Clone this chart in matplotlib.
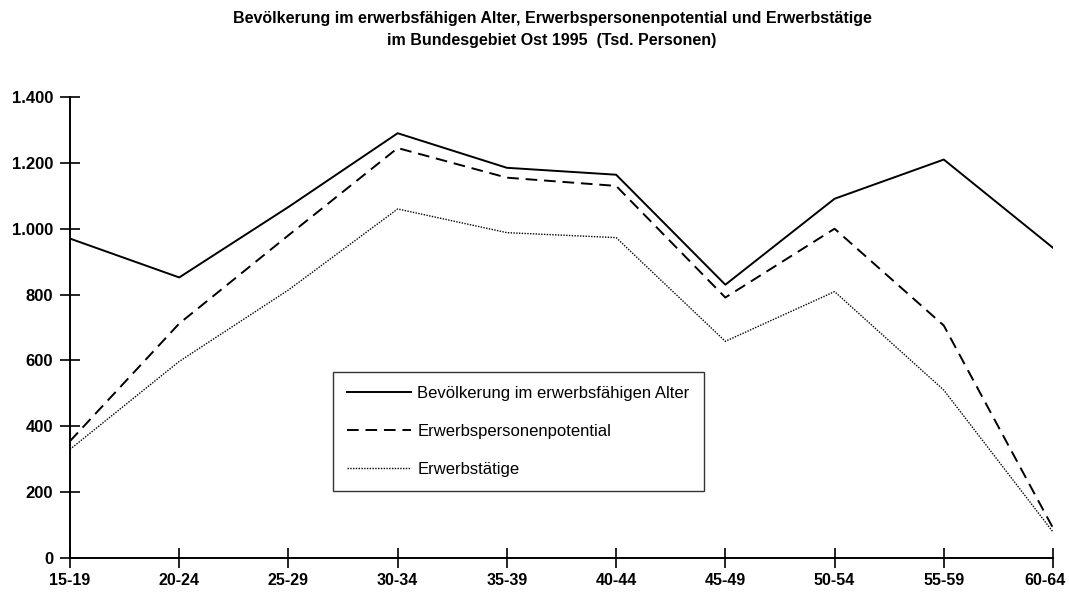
import matplotlib
matplotlib.use('Agg')
import matplotlib.pyplot as plt
import matplotlib.transforms as mtransforms
from matplotlib.ticker import FuncFormatter

plt.rcParams['font.family'] = ['Liberation Sans', 'DejaVu Sans']

# Altersgruppen
age_groups = ['15-19', '20-24', '25-29', '30-34', '35-39', '40-44', '45-49', '50-54', '55-59', '60-64']

# Tsd. Personen
bevoelkerung = [970, 852, 1066, 1290, 1185, 1164, 830, 1091, 1210, 942]
potential = [355, 712, 980, 1245, 1155, 1130, 791, 1000, 706, 91]
erwerbstaetige = [330, 597, 814, 1060, 988, 973, 658, 809, 510, 79]

labels = ['Bevölkerung im erwerbsfähigen Alter', 'Erwerbspersonenpotential', 'Erwerbstätige']
y_ticks = [0, 200, 400, 600, 800, 1000, 1200, 1400]

fig = plt.figure(figsize=(10.69, 5.96), dpi=100)
ax = fig.add_axes([70 / 1069, 38 / 596, 983 / 1069, 461 / 596])

x = list(range(len(age_groups)))
ax.plot(x, bevoelkerung, color='black', linewidth=1.4, linestyle='-', label=labels[0])
ax.plot(x, potential, color='black', linewidth=1.4, linestyle=(0, (6, 3.5)), label=labels[1])
ax.plot(x, erwerbstaetige, color='black', linewidth=1.0, linestyle=(0, (1, 1)), label=labels[2])

ax.set_xlim(0, len(age_groups) - 1)
ax.set_ylim(0, 1400)
ax.set_xticks(x)
ax.set_xticklabels(age_groups)
ax.set_yticks(y_ticks)
ax.yaxis.set_major_formatter(FuncFormatter(lambda v, p: f'{int(v):,}'.replace(',', '.')))

for side in ['top', 'right']:
    ax.spines[side].set_visible(False)
ax.spines['left'].set_linewidth(1.4)
ax.spines['bottom'].set_linewidth(1.4)
ax.tick_params(axis='both', direction='inout', length=14, width=1.2)
ax.tick_params(axis='y', pad=5, labelsize=12)
ax.tick_params(axis='x', pad=4, labelsize=11.5)
for lab in ax.get_xticklabels() + ax.get_yticklabels():
    lab.set_fontweight('bold')
# letztes Label etwas nach links, damit es nicht abgeschnitten wird
last = ax.get_xticklabels()[-1]
last.set_transform(last.get_transform() + mtransforms.ScaledTranslation(-8 / 100, 0, fig.dpi_scale_trans))

fig.text(552 / 1069, 1 - 18 / 596,
         'Bevölkerung im erwerbsfähigen Alter, Erwerbspersonenpotential und Erwerbstätige',
         ha='center', va='center', fontsize=11.5, fontweight='bold')
fig.text(552 / 1069, 1 - 40 / 596, 'im Bundesgebiet Ost 1995  (Tsd. Personen)',
         ha='center', va='center', fontsize=11.5, fontweight='bold')

leg = ax.legend(loc='upper left', bbox_to_anchor=(333 / 1069, 1 - 372 / 596),
                bbox_transform=fig.transFigure, fontsize=12, frameon=True, fancybox=False,
                handlelength=3.8, handletextpad=0.4, labelspacing=1.37,
                borderpad=0.85, borderaxespad=0)
leg.get_frame().set_edgecolor('black')
leg.get_frame().set_linewidth(1.0)

fig.savefig('out.png', dpi=100)
